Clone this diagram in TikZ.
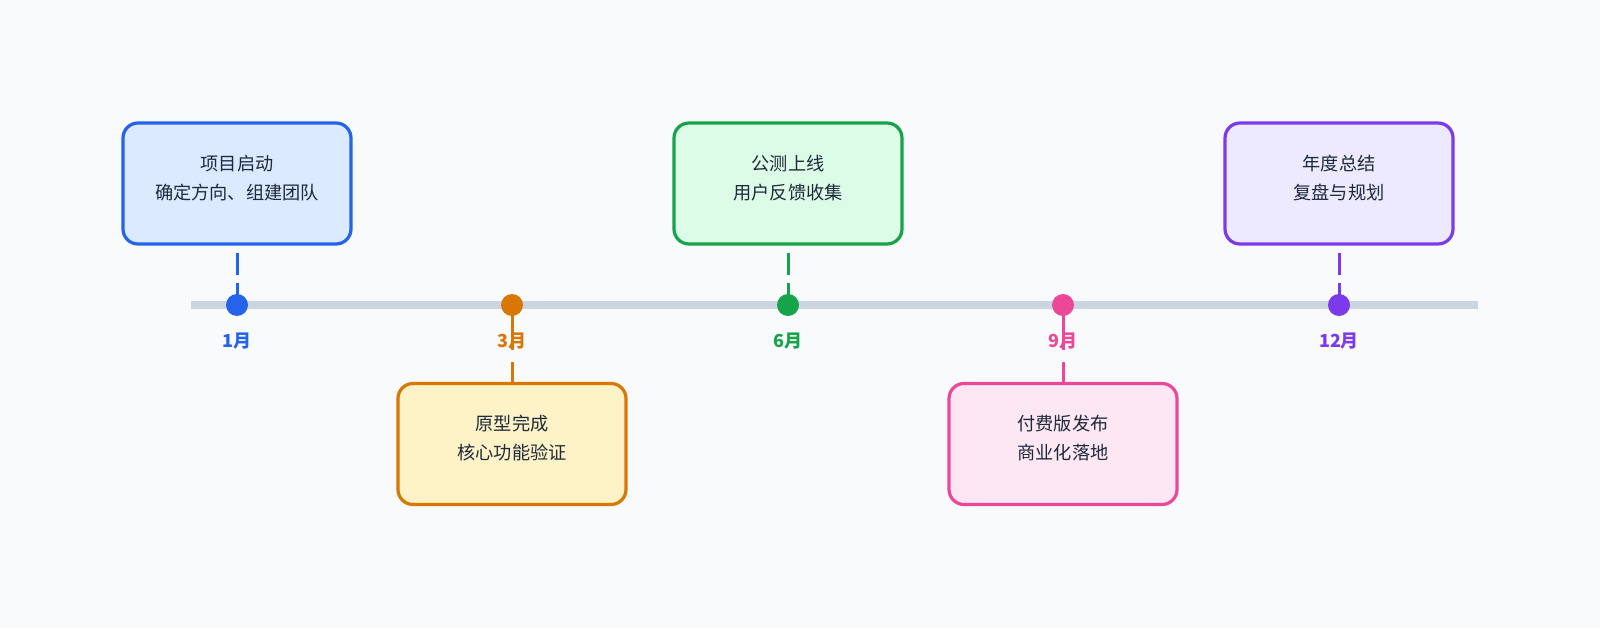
\documentclass[tikz,border=0pt]{standalone}
\usepackage{fontspec}
\setmainfont{Noto Sans CJK SC}
\definecolor{bgc}{HTML}{F8FAFC}
\definecolor{axisc}{HTML}{CBD5E1}
\definecolor{txt}{HTML}{1E293B}
\definecolor{cA}{HTML}{2563EB}\definecolor{fA}{HTML}{DBEAFE}
\definecolor{cB}{HTML}{D97706}\definecolor{fB}{HTML}{FEF3C7}
\definecolor{cC}{HTML}{16A34A}\definecolor{fC}{HTML}{DCFCE7}
\definecolor{cD}{HTML}{EC4899}\definecolor{fD}{HTML}{FCE7F3}
\definecolor{cE}{HTML}{7C3AED}\definecolor{fE}{HTML}{EDE9FE}
\pgfdeclarelayer{bg}\pgfdeclarelayer{conn}
\pgfsetlayers{bg,conn,main}
\tikzset{
  card/.style={draw, line width=3.2pt, rounded corners=15pt, minimum width=228pt, minimum height=121pt, inner sep=0pt},
  cardtext/.style={align=center, text=txt, font=\fontsize{18.2}{29.5}\selectfont},
  dotnode/.style={circle, inner sep=0pt, minimum size=22pt},
  mlabel/.style={font=\fontsize{18}{20}\selectfont\bfseries},
  upconn/.style={line width=3pt, dash pattern=on 22pt off 8pt},
  downconn/.style={line width=3pt, dash pattern=on 45pt off 12pt},
}
\begin{document}
\begin{tikzpicture}[x=1pt,y=-1pt]
\begin{pgfonlayer}{bg}
\fill[bgc] (0,0) rectangle (1600,628);
\end{pgfonlayer}
\useasboundingbox (0,0) rectangle (1600,628);
% axis
\coordinate (axL) at (191,305);
\coordinate (axR) at (1478,305);
\draw[axisc, line width=8pt] (axL) -- (axR);
% dots (positions)
\path node[dotnode] (d1) at (237,305) {}
      node[dotnode] (d2) at (512,305) {}
      node[dotnode] (d3) at (788,305) {}
      node[dotnode] (d4) at (1063,305) {}
      node[dotnode] (d5) at (1339,305) {};
% cards
\node[card, draw=cA, fill=fA] (c1) at (237,183.5) {};
\node[card, draw=cB, fill=fB] (c2) at (512,444) {};
\node[card, draw=cC, fill=fC] (c3) at (788,183.5) {};
\node[card, draw=cD, fill=fD] (c4) at (1063,444) {};
\node[card, draw=cE, fill=fE] (c5) at (1339,183.5) {};
\node[cardtext] (t1) at (237,178) {项目启动\\确定方向、组建团队};
\node[cardtext] (t2) at (512,438) {原型完成\\核心功能验证};
\node[cardtext] (t3) at (788,178) {公测上线\\用户反馈收集};
\node[cardtext] (t4) at (1063,438) {付费版发布\\商业化落地};
\node[cardtext] (t5) at (1339,178) {年度总结\\复盘与规划};
% connectors
\begin{pgfonlayer}{conn}
\draw[upconn, cA] (d1.center) -- (c1.south);
\draw[downconn, cB] (d2.center) -- (c2.north);
\draw[upconn, cC] (d3.center) -- (c3.south);
\draw[downconn, cD] (d4.center) -- (c4.north);
\draw[upconn, cE] (d5.center) -- (c5.south);
\end{pgfonlayer}
% dots
\fill[cA] (d1) circle (11pt);
\fill[cB] (d2) circle (11pt);
\fill[cC] (d3) circle (11pt);
\fill[cD] (d4) circle (11pt);
\fill[cE] (d5) circle (11pt);
% month labels
\node[mlabel, text=cA] (m1) at (237,341) {1月};
\node[mlabel, text=cB] (m2) at (512,341) {3月};
\node[mlabel, text=cC] (m3) at (788,341) {6月};
\node[mlabel, text=cD] (m4) at (1063,341) {9月};
\node[mlabel, text=cE] (m5) at (1339,341) {12月};
\end{tikzpicture}
\end{document}
